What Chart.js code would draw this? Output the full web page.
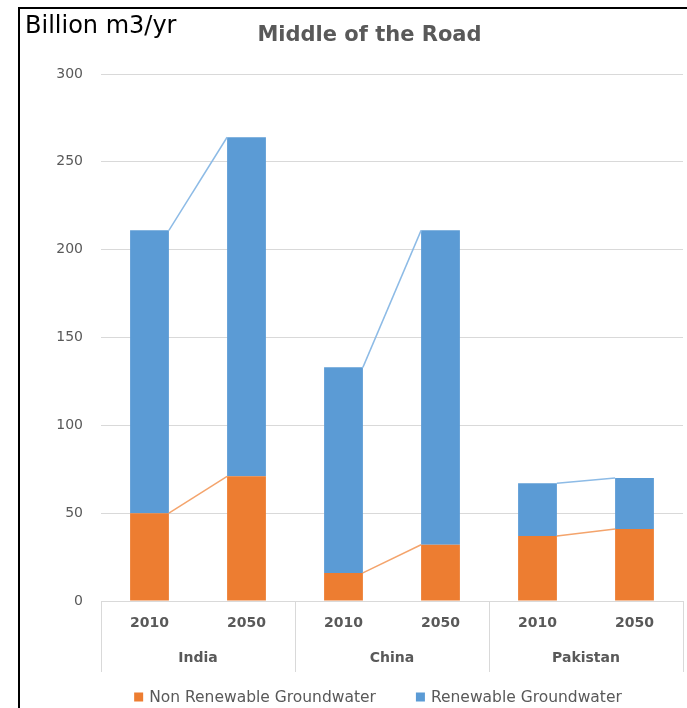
<!DOCTYPE html>
<html>
<head>
<meta charset="utf-8">
<script src="https://cdn.jsdelivr.net/npm/chart.js@4"></script>
<style>
  body { margin: 0; background: #fff; }
</style>
</head>
<body>
<canvas id="gwChart" width="687" height="708"></canvas>
<script>
// groundwater use, billion m3 per year
const years = ['2010', '2050', '2010', '2050', '2010', '2050'];
const countries = ['India', 'China', 'Pakistan'];
const nonRenewable = [50, 71, 16, 32, 37, 41];
const renewable = [161, 193, 117, 179, 30, 29];
const yMax = 300;
const yStep = 50;

const orange = '#ED7D31';
const blue = '#5B9BD5';
const gridGrey = '#d9d9d9';
const textGrey = '#595959';
const fontName = "'DejaVu Sans'";

// black frame + the unit label in the top left corner
const framePlugin = {
    id: 'frame',
    afterDraw(chart) {
        const ctx = chart.ctx;
        ctx.save();
        ctx.fillStyle = '#000';
        ctx.fillRect(18, 7, 2, chart.height - 7);
        ctx.fillRect(18, 7, chart.width - 18, 2);
        ctx.font = '24px ' + fontName;
        ctx.textBaseline = 'alphabetic';
        ctx.fillText('Billion m3/yr', 25, 33);
        ctx.restore();
    }
};

// excel style series lines between the two bars of each country
const seriesLinePlugin = {
    id: 'seriesLines',
    afterDatasetsDraw(chart) {
        const ctx = chart.ctx;
        const lineColors = ['#f4a46c', '#8dbbe6'];
        ctx.save();
        ctx.lineWidth = 1.5;
        chart.data.datasets.forEach((ds, di) => {
            const bars = chart.getDatasetMeta(di).data;
            ctx.strokeStyle = lineColors[di];
            for (let g = 0; g < countries.length; g++) {
                const a = bars[g * 2];
                const b = bars[g * 2 + 1];
                ctx.beginPath();
                ctx.moveTo(a.x + a.width / 2, a.y);
                ctx.lineTo(b.x - b.width / 2, b.y);
                ctx.stroke();
            }
        });
        ctx.restore();
    }
};

// vertical separators between the country groups on the category axis
const groupLinePlugin = {
    id: 'groupLines',
    afterDraw(chart) {
        const x = chart.scales.x;
        const grp = chart.scales.group;
        const ctx = chart.ctx;
        ctx.save();
        ctx.strokeStyle = gridGrey;
        ctx.lineWidth = 1;
        for (let i = 0; i <= countries.length; i++) {
            const px = Math.round(x.getPixelForValue(i * 2 - 0.5)) + 0.5;
            ctx.beginPath();
            ctx.moveTo(px, chart.chartArea.bottom);
            ctx.lineTo(px, grp.bottom + 1);
            ctx.stroke();
        }
        ctx.restore();
    }
};

// legend row under the axis, built from the dataset labels and colours
const legendPlugin = {
    id: 'bottomLegend',
    afterDraw(chart) {
        const ctx = chart.ctx;
        const box = 9, gap = 6, itemGap = 40;
        const y = 697;
        ctx.save();
        ctx.font = '15.5px ' + fontName;
        ctx.textBaseline = 'middle';
        const items = chart.data.datasets.map(ds => ({
            text: ds.label,
            color: ds.backgroundColor,
            w: ctx.measureText(ds.label).width
        }));
        let total = items.reduce((s, it) => s + box + gap + it.w, 0) + itemGap * (items.length - 1);
        let x = 378 - total / 2;
        items.forEach(it => {
            ctx.fillStyle = it.color;
            ctx.fillRect(x, y - box / 2, box, box);
            ctx.fillStyle = textGrey;
            ctx.fillText(it.text, x + box + gap, y + 1);
            x += box + gap + it.w + itemGap;
        });
        ctx.restore();
    }
};

new Chart(document.getElementById('gwChart'), {
    type: 'bar',
    data: {
        labels: years,
        datasets: [{
            label: 'Non Renewable Groundwater',
            data: nonRenewable,
            backgroundColor: orange,
            borderWidth: 0
        }, {
            label: 'Renewable Groundwater',
            data: renewable,
            backgroundColor: blue,
            borderWidth: 0
        }]
    },
    options: {
        responsive: false,
        animation: false,
        categoryPercentage: 1,
        barPercentage: 0.4,
        layout: {
            padding: { left: 56, right: 4, top: 0, bottom: 37 }
        },
        scales: {
            x: {
                stacked: true,
                offset: true,
                grid: { display: false, drawTicks: false },
                border: { display: true, color: gridGrey },
                ticks: {
                    padding: 13.6,
                    color: textGrey,
                    font: { family: fontName, size: 14, weight: 'bold' }
                }
            },
            group: {
                type: 'category',
                position: 'bottom',
                labels: countries,
                offset: true,
                grid: { display: false, drawTicks: false },
                border: { display: false },
                ticks: {
                    padding: 4.6,
                    color: textGrey,
                    font: { family: fontName, size: 14, weight: 'bold' }
                }
            },
            y: {
                stacked: true,
                min: 0,
                max: yMax,
                // fixed width so the plot starts where the value labels end + gap
                afterFit(scale) { scale.width = 45; },
                grid: { color: gridGrey, drawTicks: false },
                border: { display: false },
                ticks: {
                    stepSize: yStep,
                    padding: 18,
                    color: textGrey,
                    font: { family: fontName, size: 14 }
                }
            }
        },
        plugins: {
            title: {
                display: true,
                text: 'Middle of the Road',
                color: textGrey,
                font: { family: fontName, size: 21, weight: 'bold' },
                padding: { top: 23.4, bottom: 25.4 }
            },
            legend: { display: false },
            tooltip: { enabled: false }
        }
    },
    plugins: [seriesLinePlugin, groupLinePlugin, framePlugin, legendPlugin]
});
</script>
</body>
</html>
